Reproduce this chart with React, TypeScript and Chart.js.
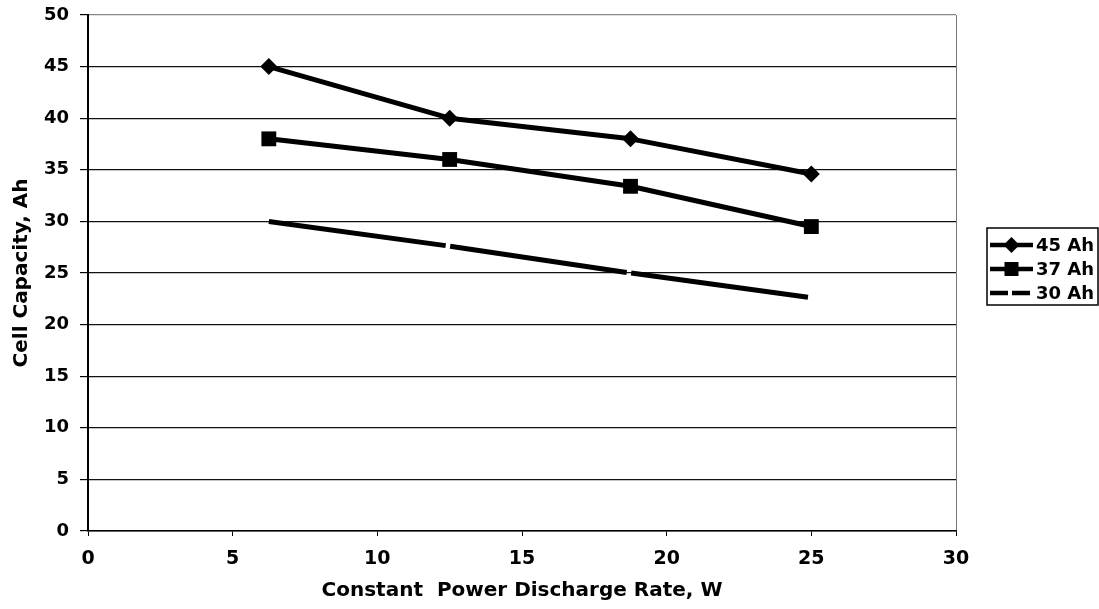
import React, { useEffect, useRef } from "react";
import { Chart, registerables } from "chart.js";

Chart.register(...registerables);

const dischargeRates = [6.25, 12.5, 18.75, 25];
const seriesLabels = ["45 Ah", "37 Ah", "30 Ah"];
const cap45 = [45, 40, 38, 34.6];
const cap37 = [38, 36, 33.4, 29.5];
const cap30 = [30, 27.6, 25, 22.6];
const xTitle = "Constant  Power Discharge Rate, W";
const yTitle = "Cell Capacity, Ah";

const FONT = "'DejaVu Sans', 'Liberation Sans', Arial, sans-serif";

const toPoints = (ys: number[]) => dischargeRates.map((x, i) => ({ x, y: ys[i] }));

const bgPlugin = {
  id: "whiteBg",
  beforeDraw(chart: any) {
    const { ctx, width, height } = chart;
    ctx.save();
    ctx.fillStyle = "#fff";
    ctx.fillRect(0, 0, width, height);
    ctx.restore();
  },
};

const legendPlugin = {
  id: "boxLegend",
  afterDraw(chart: any) {
    const { ctx, chartArea } = chart;
    const left = chartArea.right + 31;
    const top = 228;
    const rowH = 24;
    const boxW = chart.width - left - 1;
    const boxH = rowH * chart.data.datasets.length + 5;
    ctx.save();
    ctx.strokeStyle = "#000";
    ctx.lineWidth = 1.5;
    ctx.strokeRect(left, top, boxW, boxH);
    chart.data.datasets.forEach((ds: any, i: number) => {
      const cy = top + 17 + i * rowH;
      const x0 = left + 3;
      const x1 = left + 46;
      ctx.strokeStyle = "#000";
      ctx.lineWidth = 4.5;
      ctx.lineCap = "butt";
      if (ds.pointRadius === 0) {
        ctx.setLineDash([18, 4]);
      } else {
        ctx.setLineDash([]);
      }
      ctx.beginPath();
      ctx.moveTo(x0, cy);
      ctx.lineTo(x1, cy);
      ctx.stroke();
      ctx.setLineDash([]);
      const mx = (x0 + x1) / 2;
      ctx.fillStyle = "#000";
      if (ds.pointStyle === "rectRot") {
        const r = 8;
        ctx.beginPath();
        ctx.moveTo(mx - r, cy);
        ctx.lineTo(mx, cy - r);
        ctx.lineTo(mx + r, cy);
        ctx.lineTo(mx, cy + r);
        ctx.closePath();
        ctx.fill();
      } else if (ds.pointStyle === "rect" && ds.pointRadius > 0) {
        const s = 7;
        ctx.fillRect(mx - s, cy - s, 2 * s, 2 * s);
      }
      ctx.font = `bold 18px ${FONT}`;
      ctx.textAlign = "left";
      ctx.textBaseline = "middle";
      ctx.fillText(ds.label, x1 + 3, cy + 1);
    });
    ctx.restore();
  },
};

export default function App() {
  const ref = useRef<HTMLCanvasElement | null>(null);

  useEffect(() => {
    if (!ref.current) return;
    const chart = new Chart(ref.current, {
      type: "line",
      data: {
        datasets: [
          {
            label: seriesLabels[0],
            data: toPoints(cap45),
            borderColor: "#000",
            backgroundColor: "#000",
            borderWidth: 5,
            pointStyle: "rectRot",
            pointRadius: 8.5,
            pointBorderWidth: 0,
            pointBackgroundColor: "#000",
            borderJoinStyle: "round",
          },
          {
            label: seriesLabels[1],
            data: toPoints(cap37),
            borderColor: "#000",
            backgroundColor: "#000",
            borderWidth: 5,
            pointStyle: "rect",
            pointRadius: 10.5,
            pointBorderWidth: 0,
            pointBackgroundColor: "#000",
            borderJoinStyle: "round",
          },
          {
            label: seriesLabels[2],
            data: toPoints(cap30),
            borderColor: "#000",
            backgroundColor: "#000",
            borderWidth: 5,
            pointStyle: "rect",
            pointRadius: 0,
            borderDash: [178.5, 4.5],
          },
        ],
      },
      plugins: [bgPlugin, legendPlugin],
      options: {
        animation: false,
        responsive: false,
        layout: { padding: { left: 0, top: 15, right: 143, bottom: 0 } },
        plugins: {
          legend: { display: false },
          tooltip: { enabled: false },
        },
        scales: {
          x: {
            type: "linear",
            min: 0,
            max: 30,
            ticks: {
              stepSize: 5,
              color: "#000",
              padding: 12,
              font: { family: FONT, size: 19, weight: "bold" },
            },
            grid: {
              color: (c: any) => (c.tick && c.tick.value === 30 ? "#777" : "rgba(0,0,0,0)"),
              tickColor: "#000",
              tickLength: 5,
              lineWidth: 1,
            },
            border: { color: "#000", width: 1.5 },
            title: {
              display: true,
              text: xTitle,
              color: "#000",
              font: { family: FONT, size: 20, weight: "bold" },
              padding: { top: 0, bottom: 6 },
            },
            afterFit(scale: any) {
              scale.height = 78;
              scale.paddingLeft = 0;
              scale.paddingRight = 0;
            },
          },
          y: {
            min: 0,
            max: 50,
            ticks: {
              stepSize: 5,
              color: "#000",
              padding: 11,
              font: { family: FONT, size: 18, weight: "bold" },
            },
            grid: {
              color: (c: any) => (c.tick && c.tick.value === 50 ? "#888" : "#111"),
              tickColor: "#000",
              tickLength: 8,
              lineWidth: 1.2,
            },
            border: { color: "#000", width: 2 },
            title: {
              display: true,
              text: yTitle,
              color: "#000",
              font: { family: FONT, size: 20, weight: "bold" },
              padding: { top: 10, bottom: 0 },
            },
            afterFit(scale: any) {
              scale.width = 88;
              scale.paddingTop = 0;
              scale.paddingBottom = 0;
            },
          },
        },
      },
    });
    return () => chart.destroy();
  }, []);

  return (
    <div style={{ position: "fixed", left: 0, top: 0, width: 1099, height: 609, background: "#fff" }}>
      <canvas ref={ref} width={1099} height={609} style={{ display: "block" }} />
    </div>
  );
}
